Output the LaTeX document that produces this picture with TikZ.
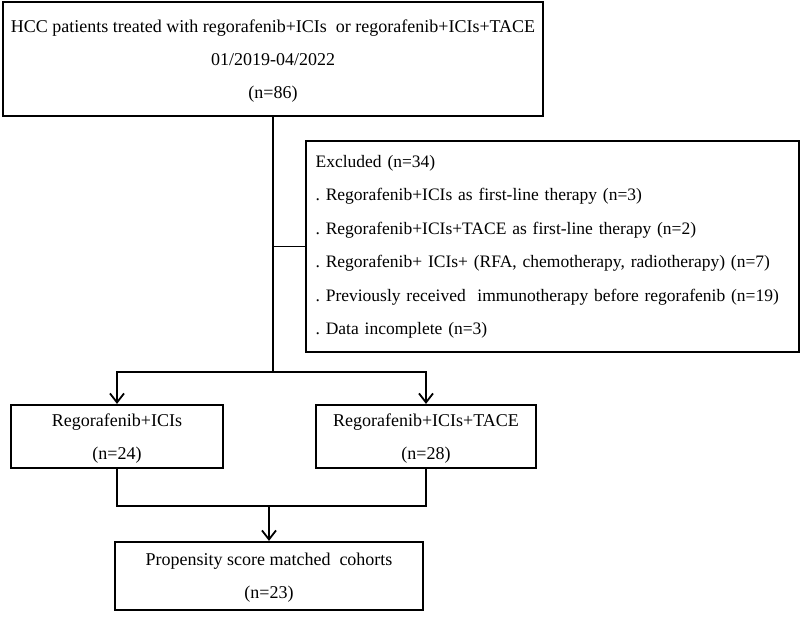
\documentclass[tikz,border=0pt]{standalone}
\usepackage{fontspec}
\setmainfont{Liberation Serif}
\usetikzlibrary{arrows.meta}

\begin{document}
\begin{tikzpicture}[x=1pt, y=-1pt, style={line cap = round},
  box/.style={draw, line width=2.2pt, rectangle, inner sep=0pt, align=center, font=\fontsize{18}{33}\selectfont\frenchspacing},
  midbox/.style={box, text depth=0pt},
  link/.style={line width=1.8pt},
  arr/.style={link, -{Straight Barb[length=9pt, width=14pt, line width=1.8pt]}}]
  \useasboundingbox (0,0) rectangle (800,617);
  % boxes
  \node[midbox, minimum width=540pt, minimum height=114pt] (hcc) at (273,59) {HCC patients treated with regorafenib+ICIs\ \ or regorafenib+ICIs+TACE\\01/2019-04/2022\\(n=86)};
  \node[box, align=left, anchor=north west, minimum width=493pt, minimum height=211pt, text width=474pt, font=\fontsize{17.5}{33.5}\selectfont\frenchspacing] (excl) at (305,140) {Excluded (n=34)\\. Regorafenib+ICIs as first-line therapy (n=3)\\. Regorafenib+ICIs+TACE as first-line therapy (n=2)\\. Regorafenib+ ICIs+ (RFA, chemotherapy, radiotherapy) (n=7)\\. Previously received\ \ immunotherapy before regorafenib (n=19)\\. Data incomplete (n=3)};
  \node[midbox, minimum width=212pt, minimum height=63pt] (regi) at (117,436.5) {Regorafenib+ICIs\\(n=24)};
  \node[midbox, minimum width=220pt, minimum height=63pt] (regt) at (426,436.5) {Regorafenib+ICIs+TACE\\(n=28)};
  \node[midbox, minimum width=308pt, minimum height=68pt] (psm) at (269,576) {Propensity score matched\ \ cohorts\\(n=23)};
  % connectors
  \coordinate (split) at (270,372);
  \coordinate (merge) at (270,506);
  \draw[link] (hcc.south) -- (hcc.south |- split);
  \draw[link] (hcc.south |- excl.west) -- (excl.west);
  \draw[arr] (hcc.south |- split) -| (regi.north);
  \draw[arr] (hcc.south |- split) -| (regt.north);
  \draw[link] (regi.south) -- (regi.south |- merge) -- (regt.south |- merge) -- (regt.south);
  \draw[arr] (psm.north |- merge) -- (psm.north);
\end{tikzpicture}
\end{document}
